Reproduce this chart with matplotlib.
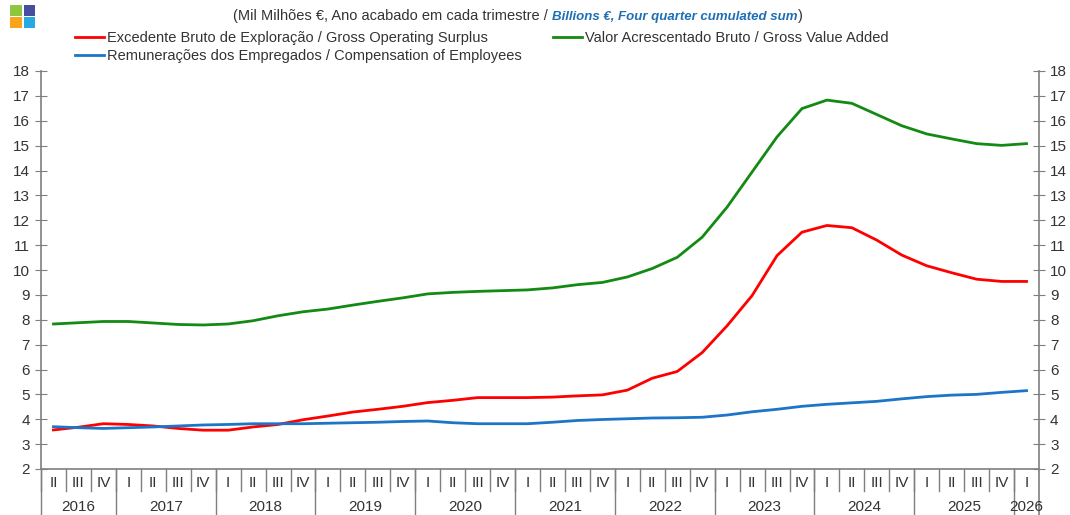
import matplotlib
matplotlib.use("Agg")
import matplotlib.pyplot as plt
from matplotlib.patches import Rectangle
import numpy as np

plt.rcParams['font.family'] = ['Liberation Sans', 'DejaVu Sans']

# quarters 2016 II .. 2026 I
years = ['2016', '2017', '2018', '2019', '2020', '2021', '2022', '2023', '2024', '2025', '2026']
quarters = ['II', 'III', 'IV'] + ['I', 'II', 'III', 'IV'] * 9 + ['I']

gva = [7.83, 7.88, 7.93, 7.93, 7.87, 7.81, 7.79, 7.83, 7.96, 8.16,
       8.32, 8.43, 8.59, 8.74, 8.88, 9.04, 9.10, 9.14, 9.17, 9.20,
       9.28, 9.41, 9.50, 9.72, 10.06, 10.51, 11.32, 12.53, 13.94, 15.35,
       16.49, 16.83, 16.70, 16.25, 15.80, 15.47, 15.27, 15.08, 15.01, 15.08]
gos = [3.57, 3.68, 3.82, 3.79, 3.73, 3.63, 3.56, 3.56, 3.69, 3.79,
       3.98, 4.13, 4.29, 4.40, 4.52, 4.67, 4.76, 4.87, 4.87, 4.87,
       4.89, 4.94, 4.98, 5.17, 5.65, 5.92, 6.68, 7.76, 8.97, 10.58,
       11.52, 11.79, 11.70, 11.20, 10.60, 10.17, 9.89, 9.63, 9.54, 9.54]
comp = [3.70, 3.66, 3.63, 3.66, 3.69, 3.73, 3.77, 3.79, 3.82, 3.82,
        3.82, 3.84, 3.86, 3.88, 3.91, 3.93, 3.86, 3.82, 3.82, 3.82,
        3.88, 3.95, 3.99, 4.02, 4.05, 4.06, 4.08, 4.17, 4.30, 4.40,
        4.52, 4.60, 4.66, 4.72, 4.82, 4.91, 4.97, 5.00, 5.08, 5.15]

RED = '#ff0000'
GREEN = '#138a13'
BLUE = '#1c75c8'
GREY = '#333333'
AX = '#7f7f7f'

fig = plt.figure(figsize=(10.7, 5.15), dpi=100)
ax = fig.add_axes([41 / 1070, 1 - 469 / 515, (1039 - 41) / 1070, (469 - 71) / 515])

x = np.arange(len(quarters))
l1, = ax.plot(x, gos, color=RED, lw=2.0, label='Excedente Bruto de Exploração / Gross Operating Surplus')
l2, = ax.plot(x, comp, color=BLUE, lw=2.0, label='Remunerações dos Empregados / Compensation of Employees')
l3, = ax.plot(x, gva, color=GREEN, lw=2.0, label='Valor Acrescentado Bruto / Gross Value Added')

ax.set_xlim(-0.5, len(quarters) - 0.5)
ax.set_ylim(2, 18)
ax.set_yticks(range(2, 19))
ax.tick_params(axis='y', which='both', direction='inout', length=8, color=AX,
               labelsize=11, labelcolor=GREY, left=True, right=True,
               labelleft=True, labelright=True, pad=4)
ax.set_xticks([])
ax.spines['top'].set_visible(False)
for s in ['left', 'right', 'bottom']:
    ax.spines[s].set_color(AX)
    ax.spines[s].set_linewidth(1.2)

trans = ax.get_xaxis_transform()
# quarter labels and separators
for i, q in enumerate(quarters):
    ax.text(i, -0.035, q, transform=trans, ha='center', va='center', fontsize=11, color=GREY)
    ax.plot([i - 0.5, i - 0.5], [0, -0.055], transform=trans, color=AX, lw=1, clip_on=False)
# year labels and separators
starts = [0] + [3 + 4 * k for k in range(10)]
ends = starts[1:] + [len(quarters)]
for yr, s0, s1 in zip(years, starts, ends):
    ax.text((s0 + s1 - 1) / 2, -0.095, yr, transform=trans, ha='center', va='center',
            fontsize=11, color=GREY)
    ax.plot([s0 - 0.5, s0 - 0.5], [0, -0.12], transform=trans, color=AX, lw=1, clip_on=False)
ax.plot([len(quarters) - 0.5] * 2, [0, -0.12], transform=trans, color=AX, lw=1.2, clip_on=False)

# legend
leg1 = fig.legend(handles=[l1, l2], loc='upper left', bbox_to_anchor=(75 / 1070, 1 - 31 / 515),
                  frameon=False, fontsize=10.5, handlelength=2.0, handletextpad=0.2,
                  labelspacing=0.3, borderaxespad=0, borderpad=0)
for t in leg1.get_texts():
    t.set_color(GREY)
leg2 = fig.legend(handles=[l3], loc='upper left', bbox_to_anchor=(553 / 1070, 1 - 31 / 515),
                  frameon=False, fontsize=10.5, handlelength=2.0, handletextpad=0.2,
                  borderaxespad=0, borderpad=0)
for t in leg2.get_texts():
    t.set_color(GREY)

# title pieces
t1 = fig.text(233 / 1070, 1 - 16 / 515, '(Mil Milhões €, Ano acabado em cada trimestre / ',
              fontsize=10.5, color=GREY, va='center', ha='left')
t2 = ax.annotate('Billions €, Four quarter cumulated sum', xy=(1, 0), xycoords=t1,
                 va='bottom', ha='left', fontsize=9.5, color='#1f6fb5',
                 fontweight='bold', fontstyle='italic')
ax.annotate(')', xy=(1, 0), xycoords=t2, va='bottom', ha='left', fontsize=10.5, color=GREY)

# logo
logo_cols = [('#8dc63f', 10, 5), ('#474ea0', 23.5, 5), ('#f9a51a', 10, 17), ('#27aae1', 23.5, 17)]
for c, px, py in logo_cols:
    fig.add_artist(Rectangle((px / 1070, 1 - (py + 11) / 515), 12 / 1070, 11 / 515,
                             transform=fig.transFigure, color=c, lw=0))

fig.savefig('out.png', dpi=100)
